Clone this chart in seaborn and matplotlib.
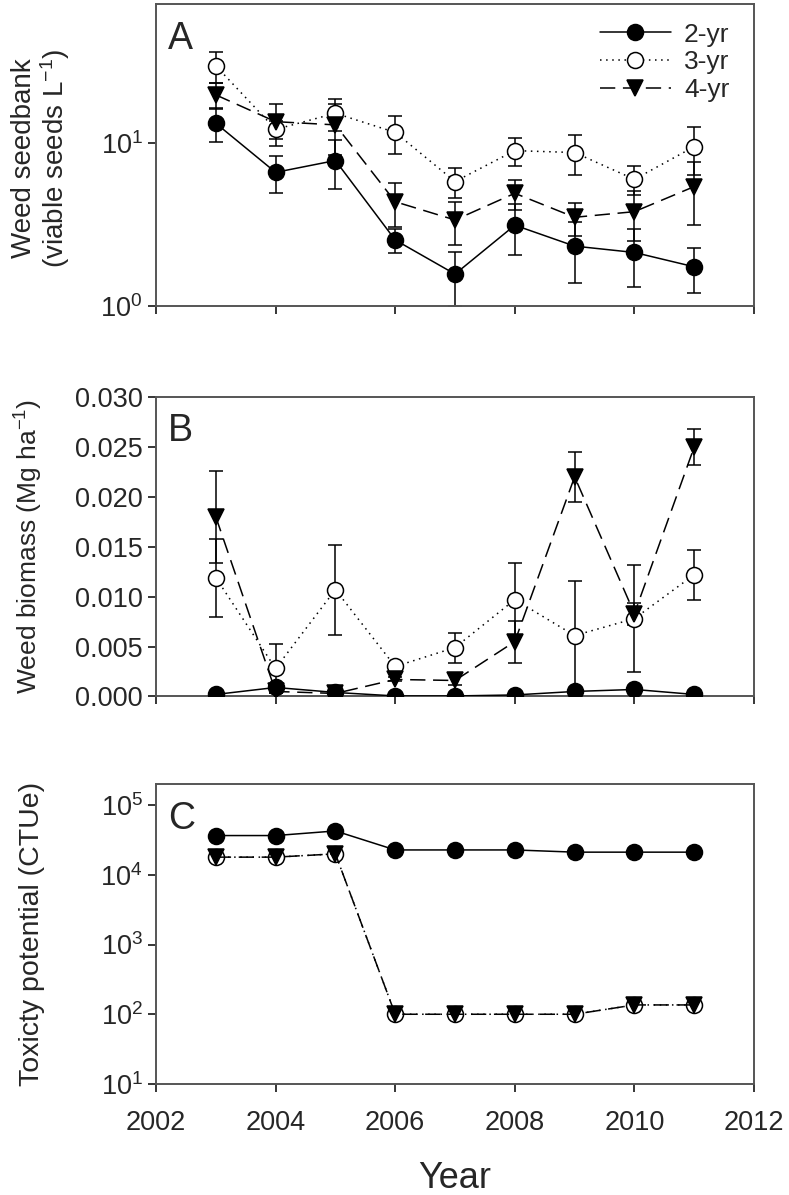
"""
Weed seedbank / biomass / toxicity potential for 2-, 3- and 4-yr rotations
"""

import numpy as np
import pandas as pd
import matplotlib
matplotlib.use('Agg')
import matplotlib.pyplot as plt
import matplotlib.ticker as mticker
import seaborn as sns

# ---- data ----
years = [2003, 2004, 2005, 2006, 2007, 2008, 2009, 2010, 2011]
rotations = ['2-yr', '3-yr', '4-yr']

# A: weed seedbank (viable seeds per L)
seed_2yr = [13.2, 6.6, 7.8, 2.54, 1.57, 3.13, 2.33, 2.13, 1.74]
seed_2yr_err = [3.1, 1.7, 2.6, 0.42, 0.57, 1.07, 0.94, 0.82, 0.53]
seed_3yr = [29.7, 12.1, 15.2, 11.6, 5.8, 8.97, 8.73, 5.98, 9.49]
seed_3yr_err = [6.3, 1.5, 3.3, 3.0, 1.2, 1.7, 2.4, 1.2, 3.1]
seed_4yr = [19.7, 13.5, 12.9, 4.36, 3.37, 4.91, 3.5, 3.79, 5.4]
seed_4yr_err = [3.6, 3.9, 4.5, 1.3, 1.0, 1.02, 0.8, 1.3, 2.27]

# B: weed biomass (Mg/ha)
bio_2yr = [0.0002, 0.0009, 0.0004, 0.00005, 0.00005, 0.00015, 0.0005, 0.0007, 0.0002]
bio_2yr_err = [0.0001, 0.0002, 0.0001, 0.00005, 0.00005, 0.0001, 0.0001, 0.0002, 0.0001]
bio_3yr = [0.0119, 0.0028, 0.0107, 0.0030, 0.0049, 0.0097, 0.0061, 0.0078, 0.0122]
bio_3yr_err = [0.0039, 0.0025, 0.0045, 0.0003, 0.0015, 0.0037, 0.0055, 0.0054, 0.0025]
bio_4yr = [0.0180, 0.0005, 0.0003, 0.0017, 0.0016, 0.0055, 0.0220, 0.0083, 0.0250]
bio_4yr_err = [0.0046, 0.0002, 0.0001, 0.0002, 0.0005, 0.0021, 0.0025, 0.0011, 0.0018]

# C: toxicity potential (CTUe)
tox_2yr = [36500, 36500, 42500, 22700, 22700, 22700, 21100, 21100, 21100]
tox_3yr = [17900, 17900, 19950, 100, 100, 100, 100, 136, 136]
tox_4yr = [17900, 17900, 19950, 100, 100, 100, 100, 136, 136]

# ---- styles ----
styles = {
    '2-yr': dict(marker='o', linestyle='-', markerfacecolor='black'),
    '3-yr': dict(marker='o', linestyle=(0, (1, 3)), markerfacecolor='white'),
    '4-yr': dict(marker='v', linestyle=(0, (10, 5)), markerfacecolor='black'),
}

sns.set_style('ticks')
plt.rcParams['font.family'] = ['Liberation Sans', 'DejaVu Sans']
plt.rcParams['mathtext.fontset'] = 'custom'
plt.rcParams['mathtext.rm'] = 'Liberation Sans'
plt.rcParams['mathtext.default'] = 'regular'
plt.rcParams['axes.edgecolor'] = '#555555'
plt.rcParams['axes.linewidth'] = 1.4


def long_frame(values, errors):
    rows = []
    for rot in rotations:
        for yr, v, e in zip(years, values[rot], errors[rot]):
            rows.append({'Year': yr, 'rotation': rot, 'value': v, 'err': e})
    return pd.DataFrame(rows)


def draw_panel(ax, df, with_err=True):
    for rot in rotations:
        sub = df[df['rotation'] == rot]
        if with_err:
            ax.errorbar(sub['Year'], sub['value'], yerr=sub['err'], fmt='none',
                        ecolor='black', elinewidth=1.1, capsize=4.7, capthick=1.1,
                        zorder=2)
        sns.lineplot(data=sub, x='Year', y='value', ax=ax, color='black',
                     linewidth=1.1, markersize=11.5, markeredgecolor='black',
                     markeredgewidth=1.1, label=rot, zorder=3, **styles[rot])


def style_axis(ax, letter):
    ax.set_xlim(2002, 2012)
    ax.xaxis.set_major_locator(mticker.MultipleLocator(2))
    ax.tick_params(axis='both', direction='out', length=6, width=1.1,
                   labelsize=19.5, color='black')
    ax.tick_params(axis='x', pad=13)
    ax.tick_params(which='minor', length=0)
    ax.text(0.02, 0.945, letter, transform=ax.transAxes, fontsize=27,
            va='top', ha='left')
    for s in ax.spines.values():
        s.set_visible(True)


fig = plt.figure(figsize=(7.89, 11.95), dpi=100)
ax_a = fig.add_axes([0.1977, 0.7439, 0.758, 0.2527])
ax_b = fig.add_axes([0.1977, 0.4172, 0.758, 0.2506])
ax_c = fig.add_axes([0.1977, 0.0929, 0.758, 0.2510])

# panel A
df_a = long_frame({'2-yr': seed_2yr, '3-yr': seed_3yr, '4-yr': seed_4yr},
                  {'2-yr': seed_2yr_err, '3-yr': seed_3yr_err, '4-yr': seed_4yr_err})
draw_panel(ax_a, df_a)
ax_a.set_yscale('log')
ax_a.set_ylim(1, 71)
ax_a.yaxis.set_major_locator(mticker.LogLocator(base=10, numticks=10))
ax_a.yaxis.set_minor_locator(mticker.NullLocator())
style_axis(ax_a, 'A')
ax_a.set_xticklabels([])
ax_a.set_xlabel('')
ax_a.set_ylabel('Weed seedbank\n(viable seeds L$^{-1}$)', fontsize=20, linespacing=1.05)
ax_a.legend(loc='upper right', frameon=False, fontsize=19, handlelength=2.7,
            borderaxespad=0.3, labelspacing=0.15, handletextpad=0.5,
            bbox_to_anchor=(0.99, 1.0))

# panel B
df_b = long_frame({'2-yr': bio_2yr, '3-yr': bio_3yr, '4-yr': bio_4yr},
                  {'2-yr': bio_2yr_err, '3-yr': bio_3yr_err, '4-yr': bio_4yr_err})
draw_panel(ax_b, df_b)
ax_b.set_ylim(0, 0.030)
ax_b.yaxis.set_major_locator(mticker.MultipleLocator(0.005))
ax_b.yaxis.set_major_formatter(mticker.FormatStrFormatter('%.3f'))
style_axis(ax_b, 'B')
ax_b.set_xticklabels([])
ax_b.set_xlabel('')
ax_b.set_ylabel('Weed biomass (Mg ha$^{-1}$)', fontsize=19)
ax_b.get_legend().remove()

# panel C
df_c = long_frame({'2-yr': tox_2yr, '3-yr': tox_3yr, '4-yr': tox_4yr},
                  {'2-yr': [0] * 9, '3-yr': [0] * 9, '4-yr': [0] * 9})
draw_panel(ax_c, df_c, with_err=False)
ax_c.set_yscale('log')
ax_c.set_ylim(10, 2e5)
ax_c.yaxis.set_major_locator(mticker.LogLocator(base=10, numticks=10))
ax_c.yaxis.set_minor_locator(mticker.NullLocator())
style_axis(ax_c, 'C')
ax_c.set_xlabel('Year', fontsize=26, labelpad=18)
ax_c.set_ylabel('Toxicty potential (CTUe)', fontsize=20.5)
ax_c.get_legend().remove()

ax_a.yaxis.set_label_coords(-0.14, 0.49)
ax_b.yaxis.set_label_coords(-0.185, 0.5)
ax_c.yaxis.set_label_coords(-0.185, 0.5)

fig.savefig('out.png', dpi=100)
